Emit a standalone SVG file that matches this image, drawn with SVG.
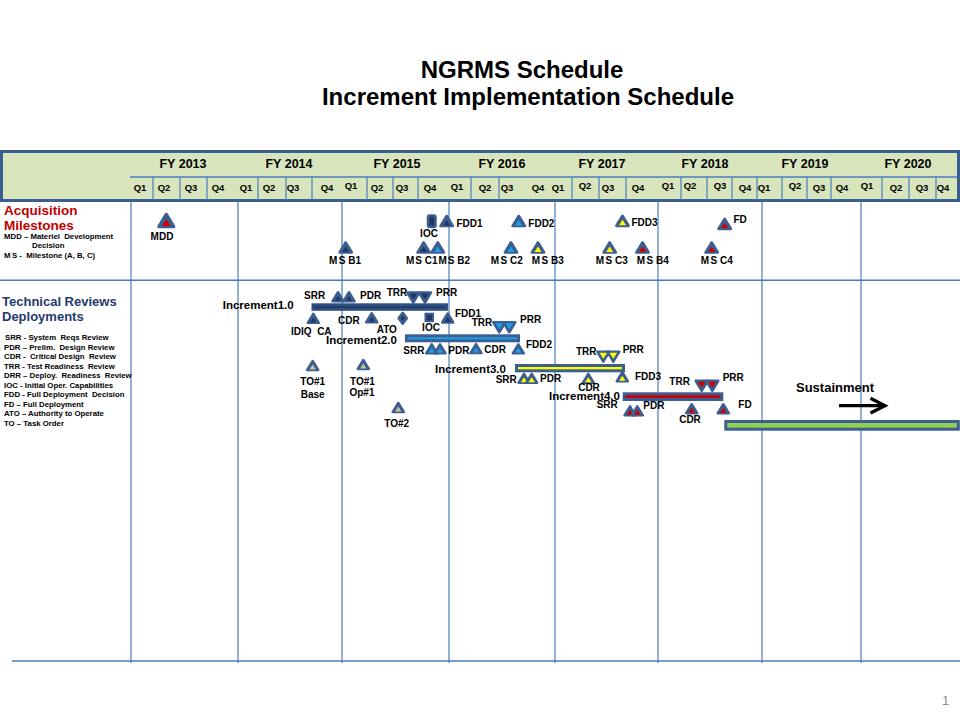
<svg xmlns="http://www.w3.org/2000/svg" width="960" height="720" viewBox="0 0 960 720">
<defs>
<style>
text{font-family:"Liberation Sans",Arial,sans-serif;font-weight:bold;fill:#000}
.t{font-size:10px}
.inc{font-size:11.5px}
.fy{font-size:12.5px;text-anchor:middle}
.q{font-size:9.5px;text-anchor:middle}
.leg{font-size:7.8px}
.m{text-anchor:middle}
.grid{stroke:#4a7ebb;stroke-width:1.2;fill:none}
.o{fill:#3d5e91;stroke:#3d5e91;stroke-width:2.5;stroke-linejoin:round}
.navy{fill:#1f3864}
.lb{fill:#1aa0e6}
.yl{fill:#ffff00}
.rd{fill:#d00000}
.tan{fill:#c9c29a}
.bar{stroke:#3d5e91;stroke-width:3}
</style>
<path id="up" d="M0,-4.5 L5.5,4.5 L-5.5,4.5 Z"/>
<path id="upi" d="M0,-1 L3.2,4 L-3.2,4 Z"/>
<path id="dn" d="M0,5 L6,-5 L-6,-5 Z"/>
<path id="dni" d="M0,2 L3.8,-4 L-3.8,-4 Z"/>
</defs>
<rect width="960" height="720" fill="#fff"/>

<g id="title">
<text x="522" y="77.5" text-anchor="middle" style="font-size:24px">NGRMS Schedule</text>
<text x="528" y="105" text-anchor="middle" style="font-size:24px">Increment Implementation Schedule</text>
</g>

<g id="header">
<rect x="1.5" y="151.5" width="957" height="49" fill="#d8e4bc" stroke="#3d5e91" stroke-width="3"/>
<line x1="130" y1="177" x2="957" y2="177" stroke="#4a7ebb" stroke-width="1.5"/>
<path class="grid" d="M153,177V200M180,177V200M207,177V200M258,177V200M286,177V200M312,177V200M367,177V200M393,177V200M418,177V200M471,177V200M499,177V200M572,177V200M599,177V200M626,177V200M681,177V200M707,177V200M732,177V200M757,177V200M782,177V200M807,177V200M831,177V200M882,177V200M909,177V200M936,177V200"/>
<text class="fy" x="183" y="167.5">FY 2013</text>
<text class="fy" x="289" y="167.5">FY 2014</text>
<text class="fy" x="397" y="167.5">FY 2015</text>
<text class="fy" x="502" y="167.5">FY 2016</text>
<text class="fy" x="602" y="167.5">FY 2017</text>
<text class="fy" x="705" y="167.5">FY 2018</text>
<text class="fy" x="805" y="167.5">FY 2019</text>
<text class="fy" x="908" y="167.5">FY 2020</text>
<text class="q" x="140" y="191">Q1</text>
<text class="q" x="164" y="191">Q2</text>
<text class="q" x="191" y="191">Q3</text>
<text class="q" x="218" y="191">Q4</text>
<text class="q" x="246" y="191">Q1</text>
<text class="q" x="269" y="191">Q2</text>
<text class="q" x="293" y="191">Q3</text>
<text class="q" x="327" y="191">Q4</text>
<text class="q" x="351" y="189">Q1</text>
<text class="q" x="377" y="191">Q2</text>
<text class="q" x="402" y="191">Q3</text>
<text class="q" x="430" y="191">Q4</text>
<text class="q" x="457" y="190">Q1</text>
<text class="q" x="485" y="191">Q2</text>
<text class="q" x="507" y="191">Q3</text>
<text class="q" x="538" y="191">Q4</text>
<text class="q" x="558" y="191">Q1</text>
<text class="q" x="585" y="189">Q2</text>
<text class="q" x="608" y="191">Q3</text>
<text class="q" x="638" y="191">Q4</text>
<text class="q" x="668" y="189">Q1</text>
<text class="q" x="690" y="189">Q2</text>
<text class="q" x="720" y="189">Q3</text>
<text class="q" x="745" y="191">Q4</text>
<text class="q" x="764" y="191">Q1</text>
<text class="q" x="795" y="189">Q2</text>
<text class="q" x="819" y="191">Q3</text>
<text class="q" x="842" y="191">Q4</text>
<text class="q" x="867" y="189">Q1</text>
<text class="q" x="896" y="191">Q2</text>
<text class="q" x="922" y="191">Q3</text>
<text class="q" x="943" y="191">Q4</text>
</g>

<g id="grid">
<path class="grid" d="M131,202V663M238,202V663M342,202V663M449,202V663M555,202V663M658,202V663M762,202V663M861,202V663"/>
<line x1="0" y1="280.3" x2="960" y2="280.3" stroke="#4a7ebb" stroke-width="1.5"/>
<line x1="12" y1="661" x2="960" y2="661" stroke="#4a7ebb" stroke-width="1.5"/>
</g>

<g id="legend-acq">
<text x="4" y="215" style="font-size:13.5px;fill:#c00000">Acquisition</text>
<text x="4" y="229.5" style="font-size:13.5px;fill:#c00000">Milestones</text>
<text class="leg" x="4" y="239" xml:space="preserve">MDD – Materiel  Development</text>
<text class="leg" x="32" y="248">Decision</text>
<text class="leg" x="4" y="258" xml:space="preserve">M<tspan dx="1.5">S -  Milestone (A, B, C)</tspan></text>
</g>

<g id="legend-tech">
<text x="2" y="306" style="font-size:13px;fill:#1f3a6e">Technical Reviews</text>
<text x="2" y="321" style="font-size:13px;fill:#1f3a6e">Deployments</text>
<text class="leg" x="5" y="340" xml:space="preserve">SRR - System  Reqs Review</text>
<text class="leg" x="4" y="349.5" xml:space="preserve">PDR – Prelim.  Design Review</text>
<text class="leg" x="4" y="359" xml:space="preserve">CDR -  Critical Design  Review</text>
<text class="leg" x="4" y="368.5" xml:space="preserve">TRR - Test Readiness  Review</text>
<text class="leg" x="4" y="378" xml:space="preserve">DRR – Deploy.  Readiness  Review</text>
<text class="leg" x="4" y="387.5">IOC - Initial Oper. Capabilities</text>
<text class="leg" x="4" y="397" xml:space="preserve">FDD - Full Deployment  Decision</text>
<text class="leg" x="4" y="406.5">FD – Full Deployment</text>
<text class="leg" x="4" y="416">ATO – Authority to Operate</text>
<text class="leg" x="4" y="425.5">TO – Task Order</text>
</g>

<!-- Acquisition milestones -->
<g id="mdd"><g transform="translate(166.3,220.5) scale(1.35)"><use href="#up" class="o"/><use href="#upi" class="rd"/></g><text class="t m" x="162" y="240">MDD</text></g>
<g id="ioc-acq"><rect x="428" y="215.5" width="7.5" height="11.5" rx="1.5" class="navy" stroke="#3d5e91" stroke-width="2.5"/><text class="t m" x="429" y="236.5">IOC</text></g>
<g id="fdd1-acq"><g transform="translate(446.7,221) scale(1.1)"><use href="#up" class="o"/><use href="#upi" class="navy"/></g><text class="t" x="456.5" y="226.5">FDD1</text></g>
<g id="fdd2-acq"><g transform="translate(518.8,221) scale(1.1)"><use href="#up" class="o"/><use href="#upi" class="lb"/></g><text class="t" x="528.3" y="226.5">FDD2</text></g>
<g id="fdd3-acq"><g transform="translate(622.5,220.8) scale(1.1)"><use href="#up" class="o"/><use href="#upi" class="yl"/></g><text class="t" x="631.5" y="225.5">FDD3</text></g>
<g id="fd-acq"><g transform="translate(724.7,223.8) scale(1.1)"><use href="#up" class="o"/><use href="#upi" class="rd"/></g><text class="t" x="733.5" y="222.5">FD</text></g>
<g id="ms-b1"><g transform="translate(345.7,247.5) scale(1.1)"><use href="#up" class="o"/><use href="#upi" class="navy"/></g><text class="t" x="329" y="264">M<tspan dx="1.5">S B1</tspan></text></g>
<g id="ms-c1"><g transform="translate(423.7,247.5) scale(1.1)"><use href="#up" class="o"/><use href="#upi" class="navy"/></g><text class="t" x="406" y="264">M<tspan dx="1">S C1</tspan></text></g>
<g id="ms-b2"><g transform="translate(437.8,247.5) scale(1.1)"><use href="#up" class="o"/><use href="#upi" class="lb"/></g><text class="t" x="438.5" y="264">M<tspan dx="1">S B2</tspan></text></g>
<g id="ms-c2"><g transform="translate(511,247.5) scale(1.1)"><use href="#up" class="o"/><use href="#upi" class="lb"/></g><text class="t" x="490.7" y="264">M<tspan dx="1.5">S C2</tspan></text></g>
<g id="ms-b3"><g transform="translate(538,247.5) scale(1.1)"><use href="#up" class="o"/><use href="#upi" class="yl"/></g><text class="t" x="531.7" y="264">M<tspan dx="1.5">S B3</tspan></text></g>
<g id="ms-c3"><g transform="translate(609.7,247.5) scale(1.1)"><use href="#up" class="o"/><use href="#upi" class="yl"/></g><text class="t" x="595.7" y="264">M<tspan dx="1.5">S C3</tspan></text></g>
<g id="ms-b4"><g transform="translate(642.5,247.5) scale(1.1)"><use href="#up" class="o"/><use href="#upi" class="rd"/></g><text class="t" x="636.7" y="264">M<tspan dx="1.5">S B4</tspan></text></g>
<g id="ms-c4"><g transform="translate(711.7,247.5) scale(1.1)"><use href="#up" class="o"/><use href="#upi" class="rd"/></g><text class="t" x="700.7" y="264">M<tspan dx="1.5">S C4</tspan></text></g>

<!-- Increment 1.0 -->
<g id="inc1">
<rect class="bar navy" x="313" y="304.8" width="133.5" height="4.5" style="stroke:#2f4f80"/>
<text class="inc" x="222.7" y="308.5">Increment1.0</text>
<use href="#up" class="o" x="338" y="296.7"/><use href="#upi" class="navy" x="338" y="296.7"/>
<use href="#up" class="o" x="349" y="296.7"/><use href="#upi" class="navy" x="349" y="296.7"/>
<text class="t" x="304" y="299.3">SRR</text>
<text class="t" x="360" y="298.7">PDR</text>
<use href="#dn" class="o" x="413.3" y="297.5"/><use href="#dni" class="navy" x="413.3" y="297.5"/>
<use href="#dn" class="o" x="425" y="297.5"/><use href="#dni" class="navy" x="425" y="297.5"/>
<text class="t" x="386.7" y="296">TRR</text>
<text class="t" x="436" y="295.7">PRR</text>
<use href="#up" class="o" x="313.3" y="318.3"/><use href="#upi" class="navy" x="313.3" y="318.3"/>
<text class="t m" x="311.3" y="335.3" xml:space="preserve">IDIQ  CA</text>
<use href="#up" class="o" x="371.7" y="317.7"/><use href="#upi" class="navy" x="371.7" y="317.7"/>
<text class="t" x="338" y="323.7">CDR</text>
<path class="o" d="M402.7,312.7 L406.8,318.2 L402.7,323.8 L398.6,318.2 Z"/>
<path class="navy" d="M402.7,315.3 L404.7,318.2 L402.7,321.2 L400.7,318.2 Z"/>
<text class="t" x="376.7" y="332.7">ATO</text>
<rect x="425.5" y="313.7" width="7.5" height="7.5" class="navy" stroke="#3d5e91" stroke-width="2"/>
<text class="t m" x="431" y="331">IOC</text>
<use href="#up" class="o" x="447.7" y="318"/><use href="#upi" class="navy" x="447.7" y="318"/>
<text class="t" x="455" y="317">FDD1</text>
</g>

<!-- Increment 2.0 -->
<g id="inc2">
<rect class="bar lb" x="406.5" y="335.8" width="112" height="5"/>
<text class="inc" x="326" y="344">Increment2.0</text>
<use href="#dn" class="o" x="499.3" y="327.3"/><use href="#dni" class="lb" x="499.3" y="327.3"/>
<use href="#dn" class="o" x="509.3" y="327.3"/><use href="#dni" class="lb" x="509.3" y="327.3"/>
<text class="t" x="471.7" y="326.3">TRR</text>
<text class="t" x="520" y="322.7">PRR</text>
<use href="#up" class="o" x="431.7" y="348.8"/><use href="#upi" class="lb" x="431.7" y="348.8"/>
<use href="#up" class="o" x="440" y="348.8"/><use href="#upi" class="lb" x="440" y="348.8"/>
<text class="t" x="403.3" y="354.3">SRR</text>
<text class="t" x="448.3" y="353.7">PDR</text>
<use href="#up" class="o" x="476" y="348.6"/><use href="#upi" class="lb" x="476" y="348.6"/>
<text class="t" x="484.3" y="353">CDR</text>
<use href="#up" class="o" x="518.3" y="348.8"/><use href="#upi" class="lb" x="518.3" y="348.8"/>
<text class="t" x="526" y="348">FDD2</text>
</g>

<!-- Increment 3.0 -->
<g id="inc3">
<rect class="bar yl" x="516.5" y="365.5" width="107" height="5.3"/>
<text class="inc" x="435" y="373">Increment3.0</text>
<use href="#dn" class="o" x="603.3" y="356.7"/><use href="#dni" class="yl" x="603.3" y="356.7"/>
<use href="#dn" class="o" x="613.3" y="356.7"/><use href="#dni" class="yl" x="613.3" y="356.7"/>
<text class="t" x="576" y="354.7">TRR</text>
<text class="t" x="622.7" y="353">PRR</text>
<use href="#up" class="o" x="524" y="378.3"/><use href="#upi" class="yl" x="524" y="378.3"/>
<use href="#up" class="o" x="531.7" y="378.3"/><use href="#upi" class="yl" x="531.7" y="378.3"/>
<text class="t" x="495.7" y="382.7">SRR</text>
<text class="t" x="540" y="382">PDR</text>
<use href="#up" class="o" x="588.3" y="378.3"/><use href="#upi" class="yl" x="588.3" y="378.3"/>
<text class="t m" x="589" y="391">CDR</text>
<use href="#up" class="o" x="622.3" y="376.7"/><use href="#upi" class="yl" x="622.3" y="376.7"/>
<text class="t" x="635" y="380.3">FDD3</text>
</g>

<!-- Increment 4.0 -->
<g id="inc4">
<rect class="bar rd" x="624.2" y="393.8" width="97.6" height="5.7"/>
<text class="inc" x="549" y="399.8">Increment4.0</text>
<use href="#dn" class="o" x="701.7" y="385.8"/><use href="#dni" class="rd" x="701.7" y="385.8"/>
<use href="#dn" class="o" x="712.3" y="385.8"/><use href="#dni" class="rd" x="712.3" y="385.8"/>
<text class="t" x="669.3" y="384.7">TRR</text>
<text class="t" x="722.7" y="381.4">PRR</text>
<use href="#up" class="o" x="630" y="410.8"/><use href="#upi" class="rd" x="630" y="410.8"/>
<use href="#up" class="o" x="637.3" y="410.8"/><use href="#upi" class="rd" x="637.3" y="410.8"/>
<text class="t" x="596.7" y="407.5">SRR</text>
<text class="t" x="643.3" y="408.7">PDR</text>
<use href="#up" class="o" x="691.7" y="408.7"/><use href="#upi" class="rd" x="691.7" y="408.7"/>
<text class="t m" x="690" y="423">CDR</text>
<use href="#up" class="o" x="723.3" y="408.7"/><use href="#upi" class="rd" x="723.3" y="408.7"/>
<text class="t" x="738.3" y="408">FD</text>
</g>

<!-- Task orders -->
<g id="to1-base"><use href="#up" class="o" x="312.7" y="365.5"/><use href="#upi" class="tan" x="312.7" y="365.5"/><text class="t m" x="312.7" y="385.3">TO#1</text><text class="t m" x="312.7" y="397.7">Base</text></g>
<g id="to1-op1"><use href="#up" class="o" x="363.3" y="364.5"/><use href="#upi" class="tan" x="363.3" y="364.5"/><text class="t m" x="362.5" y="384.6">TO#1</text><text class="t m" x="362" y="396">Op#1</text></g>
<g id="to2"><use href="#up" class="o" x="398.3" y="407.5"/><use href="#upi" class="tan" x="398.3" y="407.5"/><text class="t m" x="396.7" y="427">TO#2</text></g>

<!-- Sustainment -->
<g id="sustainment">
<rect x="725.8" y="421.5" width="232.5" height="7.7" fill="#92d050" stroke="#3d5e91" stroke-width="3"/>
<text x="796" y="392" style="font-size:13px">Sustainment</text>
</g>

<g id="connectors">
<line x1="839" y1="405.7" x2="884" y2="405.7" stroke="#000" stroke-width="3.2"/>
<polyline points="870.5,398.3 885,405.7 870.5,413" fill="none" stroke="#000" stroke-width="3.2"/>
</g>

<text x="942" y="705" style="font-size:13px;font-weight:normal;fill:#8c8c8c">1</text>
</svg>
